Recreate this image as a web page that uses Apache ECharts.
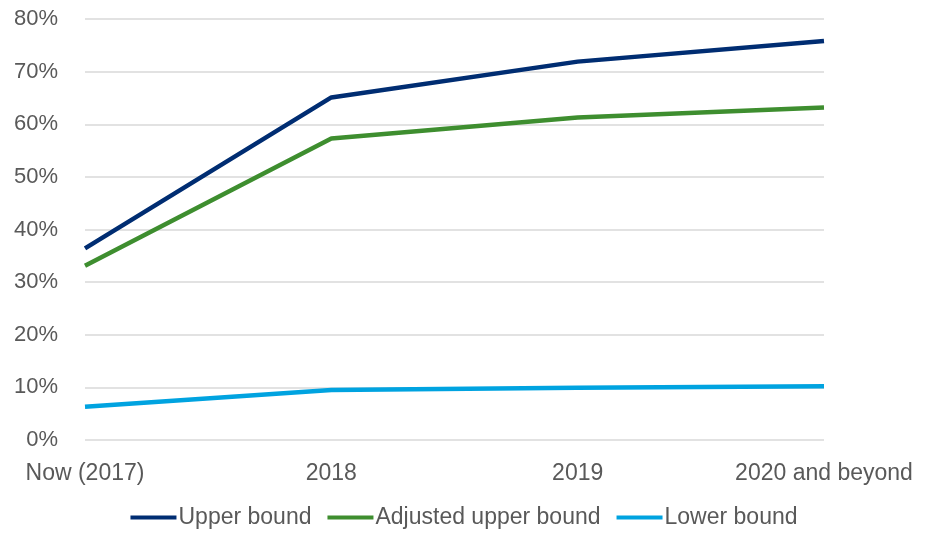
<!DOCTYPE html>
<html>
<head>
<meta charset="utf-8">
<script src="https://cdn.jsdelivr.net/npm/echarts@6/dist/echarts.min.js"></script>
<style>
  html, body { margin: 0; padding: 0; background: #fff; }
  #chart { width: 928px; height: 535px; }
</style>
</head>
<body>
<div id="chart"></div>
<script>
const categories = ["Now (2017)", "2018", "2019", "2020 and beyond"];
const upperBound = [36.4, 65.1, 71.9, 75.8];
const adjustedUpperBound = [33.1, 57.3, 61.3, 63.2];
const lowerBound = [6.3, 9.5, 9.95, 10.2];

document.addEventListener("DOMContentLoaded", function () {
  const chart = echarts.init(document.getElementById("chart"));
  const font = "Liberation Sans";
  const textColor = "#595959";

  function lineSeries(name, data, color) {
    return {
      name: name,
      type: "line",
      data: data,
      symbol: "none",
      lineStyle: { color: color, width: 4.5 },
      itemStyle: { color: color }
    };
  }

  chart.setOption({
    animation: false,
    grid: { left: 85, right: 104, top: 19, bottom: 95, containLabel: false },
    legend: {
      bottom: 1,
      left: "center",
      icon: "rect",
      itemWidth: 46,
      itemHeight: 4,
      itemGap: 16,
      textStyle: { color: textColor, fontFamily: font, fontSize: 23, padding: [0, 0, 0, -3] },
      data: ["Upper bound", "Adjusted upper bound", "Lower bound"]
    },
    xAxis: {
      type: "category",
      data: categories,
      boundaryGap: false,
      axisLine: { show: false },
      axisTick: { show: false },
      axisLabel: { color: textColor, fontFamily: font, fontSize: 23, margin: 22 }
    },
    yAxis: {
      type: "value",
      min: 0,
      max: 80,
      interval: 10,
      axisLine: { show: false },
      axisTick: { show: false },
      splitLine: { lineStyle: { color: "#d9d9d9", width: 1.5 } },
      axisLabel: { color: textColor, fontFamily: font, fontSize: 22, margin: 27, formatter: "{value}%" }
    },
    series: [
      lineSeries("Upper bound", upperBound, "#002D72"),
      lineSeries("Adjusted upper bound", adjustedUpperBound, "#3E8E2F"),
      lineSeries("Lower bound", lowerBound, "#00A3E0")
    ]
  });
});
</script>
</body>
</html>
